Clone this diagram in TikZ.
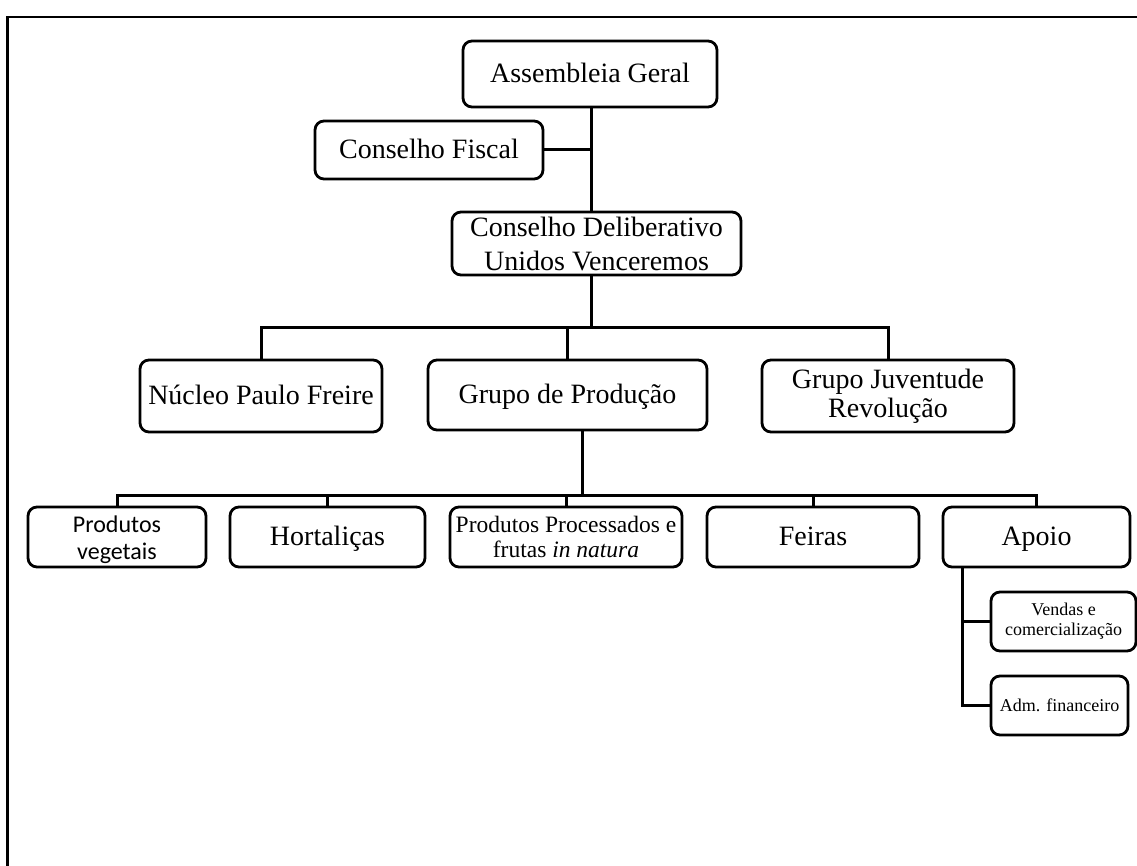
\documentclass[tikz,border=0pt]{standalone}
\usepackage{fontspec}
\setmainfont{Liberation Serif}
\newfontfamily\calfont{Carlito}
\begin{document}
\begin{tikzpicture}[x=1pt,y=-1pt,
  box/.style={draw, line width=2.8pt, rounded corners=9pt, fill=white, align=center, inner sep=0pt},
  onebig/.style={text height=19pt, text depth=2pt},
  onesmall/.style={text height=12.5pt, text depth=1.5pt},
  big/.style={font=\fontsize{28}{34}\selectfont},
  mid/.style={font=\fontsize{23.5}{25}\selectfont},
  small/.style={font=\fontsize{18}{20}\selectfont},
  wire/.style={line width=3pt}]
\useasboundingbox (0,0) rectangle (1137,866);
% frame
\draw[line width=2.5pt] (7.5,870) -- (7.5,17) -- (1140,17);
% nodes
\node[box,big,onebig,minimum width=254pt,minimum height=66pt] (ag) at (590,74) {Assembleia Geral};
\node[box,big,onebig,minimum width=228pt,minimum height=58pt] (cf) at (429,150) {Conselho Fiscal};
\node[box,big,minimum width=289pt,minimum height=63pt] (cd) at (596.5,243.5) {Conselho Deliberativo\\Unidos Venceremos};
\node[box,big,onebig,minimum width=242pt,minimum height=72pt] (npf) at (261,396) {Núcleo Paulo Freire};
\node[box,big,onebig,minimum width=279pt,minimum height=70pt] (gp) at (567.5,395) {Grupo de Produção};
\node[box,font=\fontsize{28}{29}\selectfont,minimum width=252pt,minimum height=72pt] (gj) at (888,396) {Grupo Juventude\\Revolução};
\node[box,font=\calfont\fontsize{24}{27}\selectfont,minimum width=178pt,minimum height=60pt] (pv) at (117,537) {\rule{0pt}{22pt}Produtos\\vegetais};
\node[box,big,onebig,minimum width=195pt,minimum height=60pt] (ho) at (327.5,537) {Hortaliças};
\node[box,mid,minimum width=232pt,minimum height=60pt] (pp) at (566,537) {Produtos Processados e\\frutas \textit{in natura}};
\node[box,big,onebig,minimum width=212pt,minimum height=60pt] (fe) at (813,537) {Feiras};
\node[box,big,onebig,minimum width=187pt,minimum height=60pt] (ap) at (1036.5,537) {Apoio};
\node[box,small,minimum width=145pt,minimum height=59pt] (ve) at (1063.5,621.5) {Vendas e\\comercialização};
\node[box,small,onesmall,minimum width=137pt,minimum height=59pt] (adm) at (1059.5,705.5) {Adm. financeiro};
% junction points
\coordinate (b1) at (591,328);
\coordinate (b2) at (582,495);
\coordinate (av) at (962,567);
% connectors
\draw[wire] (ag.south -| b1) -- (cd.north -| b1);
\draw[wire] (cf.east) -- (cf.east -| b1);
\draw[wire] (cd.south -| b1) -- (b1);
\draw[wire] (npf.north) |- (b1) -| (gj.north);
\draw[wire] (gp.north) -- (gp.north |- b1);
\draw[wire] (gp.south -| b2) -- (b2);
\draw[wire] (pv.north) |- (b2) -| (ap.north);
\draw[wire] (ho.north) -- (ho.north |- b2);
\draw[wire] (pp.north) -- (pp.north |- b2);
\draw[wire] (fe.north) -- (fe.north |- b2);
\draw[wire] (ap.south -| av) |- (adm.west);
\draw[wire] (ve.west) -- (ve.west -| av);
\end{tikzpicture}
\end{document}
